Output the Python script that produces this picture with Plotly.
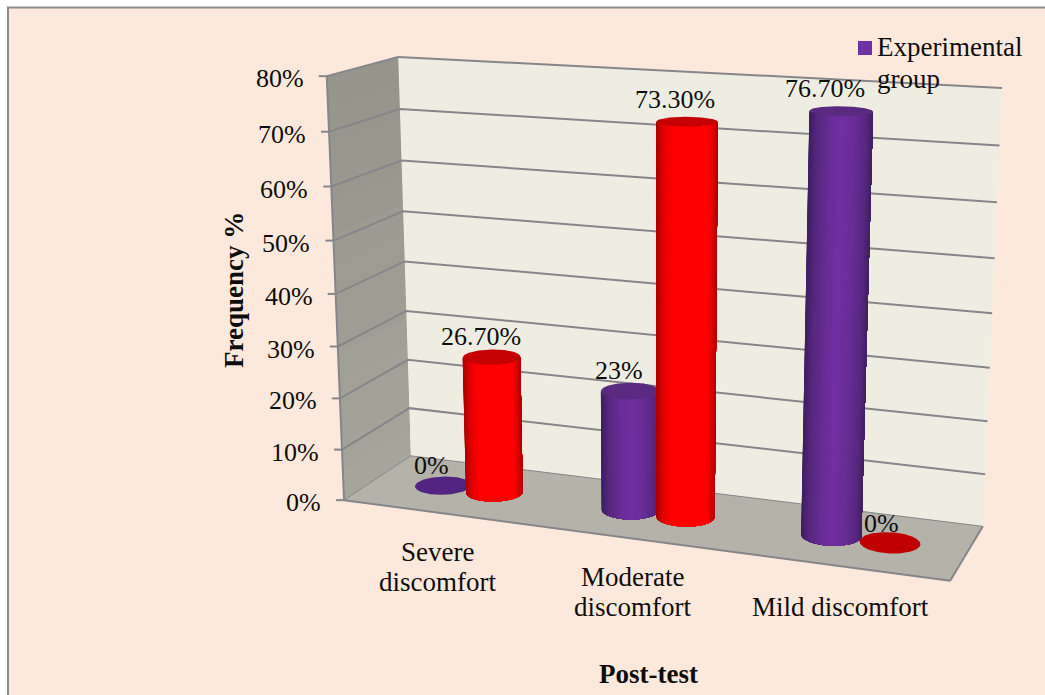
import numpy as np
import plotly.graph_objects as go

WIDTH, HEIGHT = 1045, 695

# Chart data
categories = [["Severe", "discomfort"], ["Moderate", "discomfort"], ["Mild discomfort"]]
experimental = [0, 23, 76.7]
post_test_other = [26.7, 73.3, 0]
experimental_labels = ["0%", "23%", "76.70%"]
post_test_other_labels = ["26.70%", "73.30%", "0%"]
tick_values = [0, 10, 20, 30, 40, 50, 60, 70, 80]
tick_labels = ["0%", "10%", "20%", "30%", "40%", "50%", "60%", "70%", "80%"]
legend_lines = ["Experimental", "group"]
x_title = "Post-test"
y_title = "Frequency %"

# Plotly has no 3-D column type that keeps this narrow lens, so the box is
# projected onto a pixel-scaled cartesian plane with a camera matrix.
box_axes = np.array([[0, 0, 0], [0, 0, 1], [0, 1, 0], [0, 1, 1], [1, 1, 0], [1, 1, 1], [1, 0, 0]], float)
box_pixels = np.array([[344, 500], [327, 76], [411, 456], [398, 57], [983, 526], [1002, 88], [950, 581]], float)


def solve_camera(world, image):
    rows = []
    for (a, b, c), (u, v) in zip(world, image / 1000):
        rows.append([a, b, c, 1, 0, 0, 0, 0, -u * a, -u * b, -u * c, -u])
        rows.append([0, 0, 0, 0, a, b, c, 1, -v * a, -v * b, -v * c, -v])
    return np.linalg.svd(np.array(rows))[2][-1].reshape(3, 4)


CAMERA = solve_camera(box_axes, box_pixels)
N_CAT = len(categories)
Z_MAX = tick_values[-1]


def project(cat, depth, value):
    """Category position, depth 0-1 (front to back) and value to pixels."""
    cat, depth, value = np.broadcast_arrays(np.asarray(cat, float), np.asarray(depth, float), np.asarray(value, float))
    pts = np.stack([cat / N_CAT, depth, value / Z_MAX, np.ones_like(cat)], axis=-1)
    h = pts @ CAMERA.T
    return h[..., 0] / h[..., 2] * 1000, h[..., 1] / h[..., 2] * 1000


def mix(stops, t):
    ts = [s[0] for s in stops]
    rgb = [np.interp(t, ts, [int(s[1][i:i + 2], 16) for s in stops]) for i in (1, 3, 5)]
    return "rgb(%d,%d,%d)" % tuple(rgb)


PURPLE = dict(body=[(0, "#3e2060"), (0.12, "#54287c"), (0.35, "#6a2e98"), (0.5, "#7230a2"), (0.7, "#6a2e98"), (0.9, "#562880"), (1, "#44225f")], cap="#5a2a80", flat="#532381")
RED = dict(body=[(0, "#a80000"), (0.1, "#dc0000"), (0.25, "#ff0000"), (0.85, "#ff0000"), (0.95, "#d40000"), (1, "#a80000")], cap="#c40000", flat="#c00000")

fig = go.Figure()


def polygon(px, py, color):
    fig.add_trace(go.Scatter(x=px, y=py, mode="lines", fill="toself", fillcolor=color,
                             line=dict(color=color, width=0), hoverinfo="skip", showlegend=False))


def stroke(px, py, color="#86868a", width=2.0):
    fig.add_trace(go.Scatter(x=px, y=py, mode="lines", line=dict(color=color, width=width),
                             hoverinfo="skip", showlegend=False))


def face(corners, color):
    cs = np.array(corners, float)
    px, py = project(cs[:, 0], cs[:, 1], cs[:, 2])
    polygon(list(px) + [px[0]], list(py) + [py[0]], color)


# Side wall shaded slightly lighter towards the floor; each band overpaints the
# rest of the wall above it, which keeps the joins free of seams
bands = 14
for k in range(bands):
    z0 = Z_MAX * k / bands
    shade = mix([(0, "#a5a59b"), (1, "#95958b")], k / (bands - 1))
    face([(0, 0, z0), (0, 1, z0), (0, 1, Z_MAX), (0, 0, Z_MAX)], shade)
face([(0, 1, 0), (N_CAT, 1, 0), (N_CAT, 1, Z_MAX), (0, 1, Z_MAX)], "#efede2")
face([(0, 0, 0), (N_CAT, 0, 0), (N_CAT, 1, 0), (0, 1, 0)], "#b5b2aa")

# Gridlines run along the back wall and around the side wall to the tick marks
for v in tick_values:
    px, py = project([N_CAT, 0, 0], [1, 1, 0], [v, v, v])
    stroke(list(px), list(py), width=1.0 if v == 0 else 2.0)
    stroke([px[2] - 8, px[2]], [py[2], py[2]])

# Remaining box edges
for seg in [((0, 0), (0, 0), (0, Z_MAX)), ((0, N_CAT), (0, 0), (0, 0)), ((N_CAT, N_CAT), (0, 1), (0, 0))]:
    px, py = project(*seg)
    stroke(list(px), list(py))

COLUMN_RADIUS = 0.14
DEPTH_RADIUS = 0.19
SERIES_OFFSET = 0.14
MID_DEPTH = 0.5
ANGLES = np.linspace(0, 2 * np.pi, 361)
SLICES = 70
# slice boundaries across the column width, denser towards the silhouette
FRACTIONS = (1 - np.cos(np.pi * np.arange(SLICES + 1) / SLICES)) / 2


def rim(center, value):
    return project(center + COLUMN_RADIUS * np.cos(ANGLES), MID_DEPTH + DEPTH_RADIUS * np.sin(ANGLES), value)


def near_side(x, y):
    """Near half of a projected rim, sampled at FRACTIONS of its width."""
    left, right = x.min(), x.max()
    lower = np.argsort(x)
    mid = (y[x.argmin()] + y[x.argmax()]) / 2
    keep = lower[y[lower] >= mid]
    px = left + FRACTIONS * (right - left)
    chord = y[x.argmin()] + FRACTIONS * (y[x.argmax()] - y[x.argmin()])
    above = y[lower] >= y[x.argmin()] + (x[lower] - left) / (right - left) * (y[x.argmax()] - y[x.argmin()])
    keep = lower[above]
    py = np.interp(px, x[keep], y[keep])
    py[0], py[-1] = chord[0], chord[-1]
    return px, py


def column(center, value, style):
    tx, ty = rim(center, value)
    if value <= 0:
        polygon(list(tx), list(ty), style["flat"])
        return
    bx, by = near_side(*rim(center, 0))
    ux, uy = near_side(tx, ty)
    # painted left to right, each slice also covering everything still to come
    for k in range(SLICES):
        t = (FRACTIONS[k] + FRACTIONS[k + 1]) / 2
        polygon(list(bx[k:]) + list(ux[k:][::-1]) + [bx[k]],
                list(by[k:]) + list(uy[k:][::-1]) + [by[k]], mix(style["body"], t))
    polygon(list(tx), list(ty), style["cap"])


# Nearer columns are painted last so that they overlap correctly
column(0.5 - SERIES_OFFSET, experimental[0], PURPLE)
column(0.5 + SERIES_OFFSET, post_test_other[0], RED)
column(1.5 - SERIES_OFFSET, experimental[1], PURPLE)
column(1.5 + SERIES_OFFSET, post_test_other[1], RED)
column(2.5 + SERIES_OFFSET, post_test_other[2], RED)
column(2.5 - SERIES_OFFSET, experimental[2], PURPLE)

SERIF = "Liberation Serif"
TEXT = "#0d0d0d"
notes = []


def label(x, y, text, bold=False, xanchor="center", angle=0, size=27):
    notes.append(dict(x=float(x), y=float(y), xref="x", yref="y", text=f"<b>{text}</b>" if bold else text,
                      showarrow=False, xanchor=xanchor, yanchor="middle", textangle=angle,
                      font=dict(family=SERIF, size=size, color=TEXT)))


for v, t in zip(tick_values, tick_labels):
    px, py = project(0, 0, v)
    label(px - 21, py + 2.5, t, xanchor="right", size=26)

# Value captions sit just above each column top
for i in range(N_CAT):
    px, py = project(i + 0.5 - SERIES_OFFSET, MID_DEPTH, experimental[i])
    label(px + (-12, -11, -16)[i], py + (-20, -20, -23)[i], experimental_labels[i], size=26)
    px, py = project(i + 0.5 + SERIES_OFFSET, MID_DEPTH, post_test_other[i])
    label(px + (-11, -12, -8)[i], py + (-21, -22, -19)[i], post_test_other_labels[i], size=26)

# Category captions, one annotation per line for a tight line pitch
category_offsets = (40, 39, 41)
for i, lines in enumerate(categories):
    px, py = project(i + 0.5, 0, 0)
    for j, line in enumerate(lines):
        label(px + 1, py + category_offsets[i] + 30 * j, line)

label(648, 674, x_title, bold=True)
label(234, 290, y_title, bold=True, angle=-90)
for j, line in enumerate(legend_lines):
    label(875, 47 + 32 * j, line, xanchor="left")

fig.update_layout(
    width=WIDTH, height=HEIGHT, margin=dict(l=0, r=0, t=0, b=0),
    paper_bgcolor="white", plot_bgcolor="rgba(0,0,0,0)", showlegend=False, hovermode=False,
    xaxis=dict(range=[0, WIDTH], visible=False, fixedrange=True),
    yaxis=dict(range=[HEIGHT, 0], visible=False, fixedrange=True),
    annotations=notes,
    shapes=[
        dict(type="rect", xref="x", yref="y", x0=8, x1=WIDTH + 20, y0=7.5, y1=HEIGHT + 20,
             fillcolor="#FDE9DB", line=dict(color="#8c8c8c", width=2), layer="below"),
        dict(type="rect", xref="x", yref="y", x0=858, x1=872, y0=41, y1=55,
             fillcolor="#7030A0", line=dict(width=0), layer="above"),
    ],
)
fig.write_html("out.html")
